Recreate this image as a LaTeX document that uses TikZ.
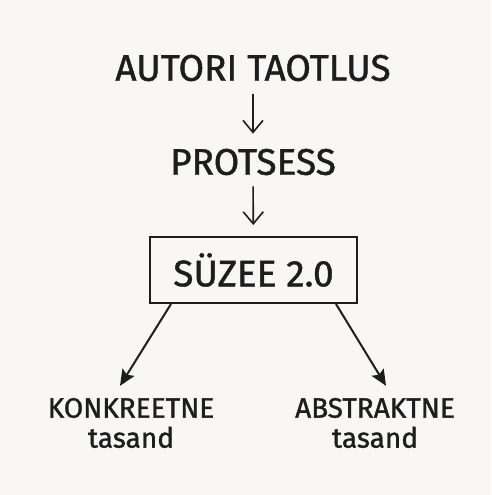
\documentclass[tikz,border=0pt]{standalone}
\usepackage{fontspec}
\setmainfont{Fira Sans}[FakeBold=1.2]
\usetikzlibrary{arrows.meta}
\definecolor{paper}{RGB}{248,247,244}
\definecolor{ink}{RGB}{28,30,30}
\begin{document}
\begin{tikzpicture}[x=1pt,y=-1pt,
    title/.style={text=ink, font=\fontsize{37}{42}\selectfont, inner sep=0pt},
    level/.style={text=ink, font=\fontsize{28}{30}\selectfont, align=center, inner sep=0pt},
    framed/.style={draw=ink, line width=2pt, minimum width=207pt, minimum height=66pt, inner sep=0pt,
        text=ink, font=\fontsize{37}{42}\selectfont},
    down/.style={ink, line width=1.6pt, -{Straight Barb[length=12pt,width=20pt,line width=1.6pt]}},
    slant/.style={ink, line width=2pt, -{Stealth[length=16pt,width=14pt,inset=3pt]}}]
    \fill[paper] (0,0) rectangle (491,495);
    \node[title] (autor) at (253,68) {AUTORI TAOTLUS};
    \node[title] (prots) at (253,162) {PROTSESS};
    \node[framed] (syzee) at (253.5,270) {SÜZEE 2.0};
    \node[level] (konk) at (131,423) {KONKREETNE\\tasand};
    \node[level] (abst) at (375,423) {ABSTRAKTNE\\tasand};
    \draw[down, shorten <=13pt, shorten >=15pt] (autor) -- (prots);
    \draw[down, shorten <=11pt, shorten >=11pt] (prots) -- (syzee);
    \draw[slant] ([xshift=22pt]syzee.south west) -- ([xshift=-11pt,yshift=12pt]konk.north);
    \draw[slant] ([xshift=-22pt]syzee.south east) -- ([xshift=11pt,yshift=12pt]abst.north);
\end{tikzpicture}
\end{document}
